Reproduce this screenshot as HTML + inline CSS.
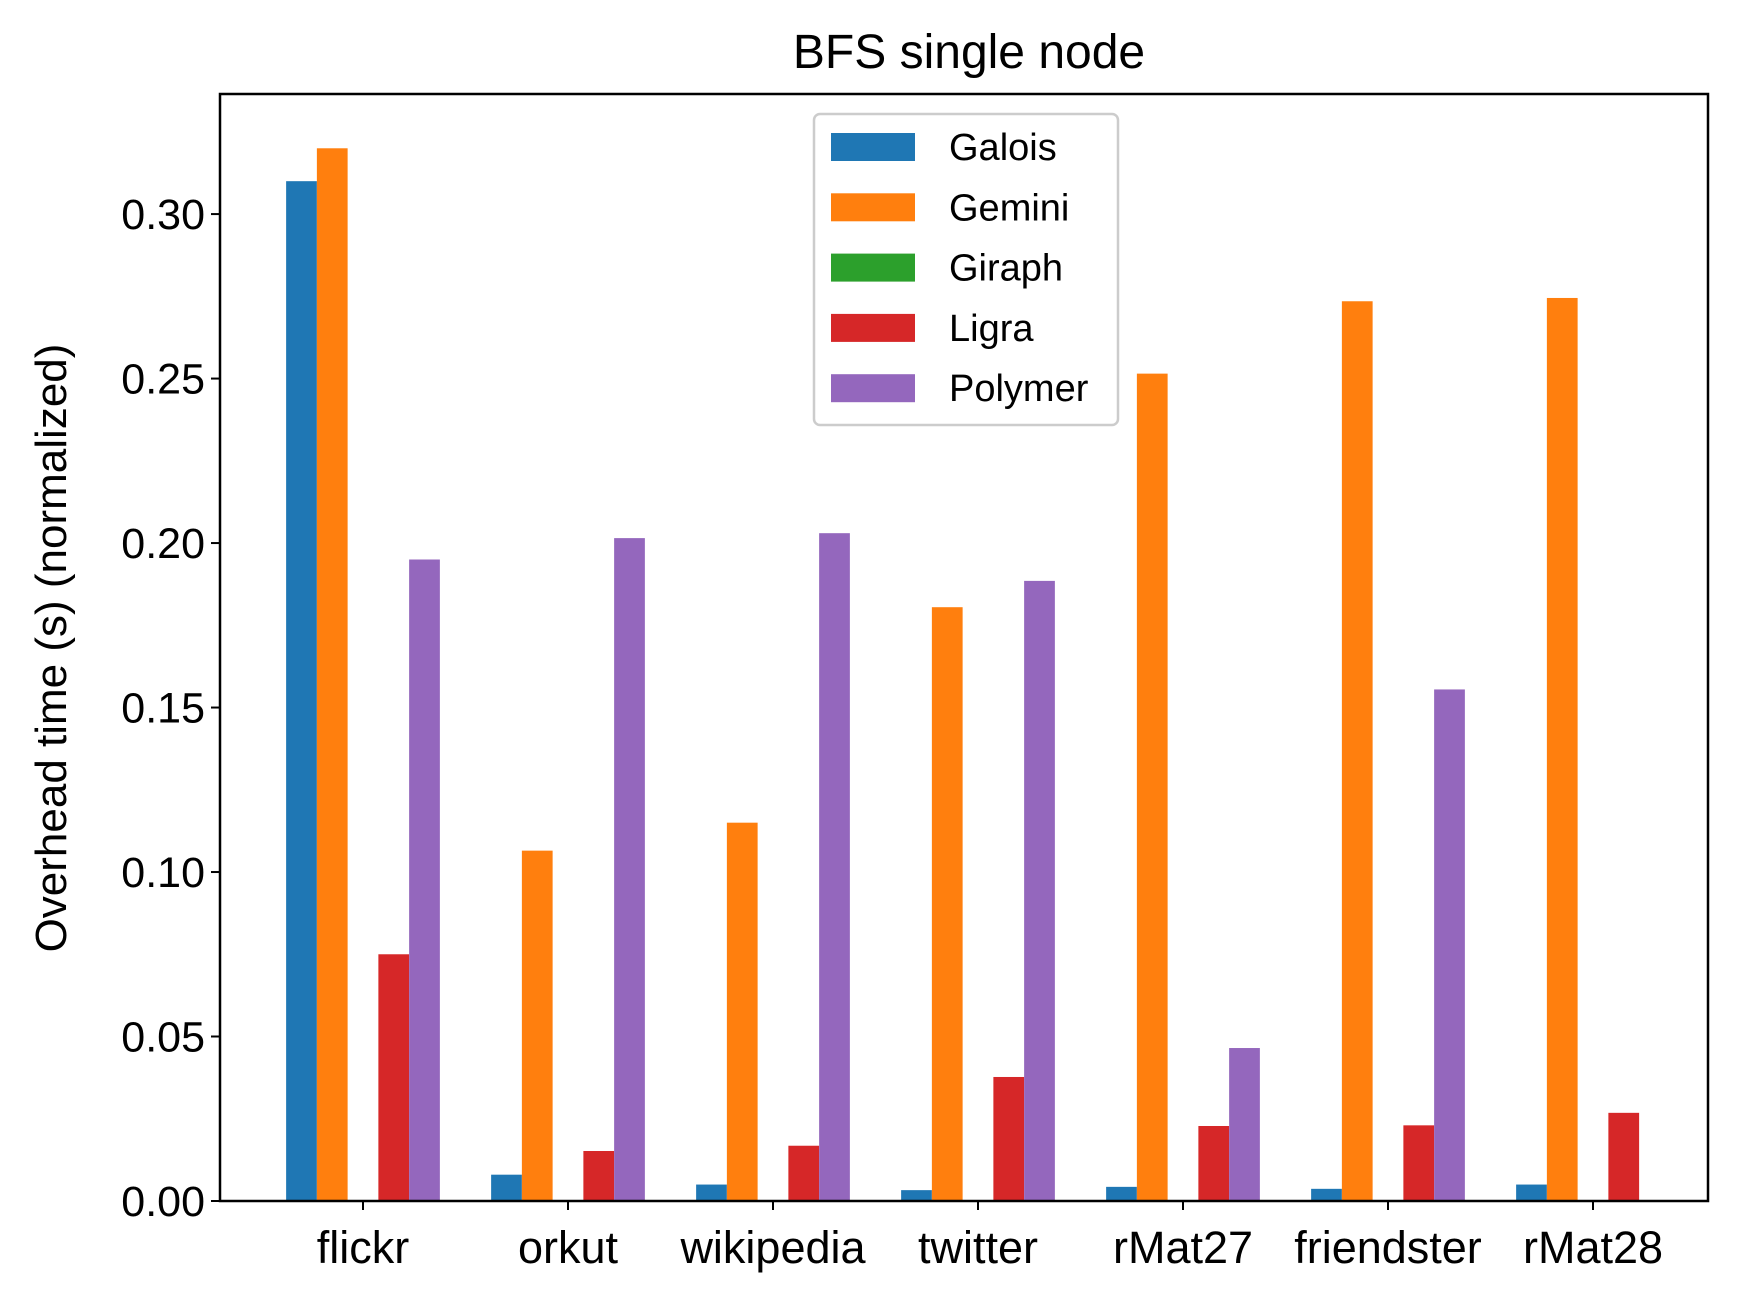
<!DOCTYPE html>
<html><head><meta charset="utf-8"><style>
body{margin:0;background:#fff}
svg{display:block;font-family:"Liberation Sans",Arial,sans-serif}
</style></head><body>
<svg id="c" width="1738" height="1308" viewBox="0 0 1738 1308"></svg>
<script>
const categories=["flickr","orkut","wikipedia","twitter","rMat27","friendster","rMat28"];
const seriesNames=["Galois","Gemini","Giraph","Ligra","Polymer"];
const colors=["#1f77b4","#ff7f0e","#2ca02c","#d62728","#9467bd"];
const galois=[0.31,0.008,0.005,0.0033,0.0043,0.0037,0.005];
const gemini=[0.32,0.1065,0.115,0.1805,0.2515,0.2735,0.2745];
const giraph=[0,0,0,0,0,0,0];
const ligra=[0.075,0.0152,0.0168,0.0377,0.0228,0.023,0.0268];
const polymer=[0.195,0.2015,0.203,0.1885,0.0465,0.1555,0];
const yTicks=[0,0.05,0.10,0.15,0.20,0.25,0.30];
const yTickLabels=["0.00","0.05","0.10","0.15","0.20","0.25","0.30"];
const series=[galois,gemini,giraph,ligra,polymer];
const L=220,R=1708,T=94,B=1201,ymax=0.3365;
const y=v=>B-(v/ymax)*(B-T);
const x=i=>363+i*205;
const bw=0.15*205;
const svg=document.getElementById('c');
const NS="http://www.w3.org/2000/svg";
function mk(tag,attrs,txt){const e=document.createElementNS(NS,tag);for(const k in attrs)e.setAttribute(k,attrs[k]);if(txt!==undefined)e.textContent=txt;svg.appendChild(e);return e;}
series.forEach((vals,s)=>{vals.forEach((v,i)=>{if(v<=0)return;
const r=mk('rect',{x:x(i)+(s-2)*bw-bw/2,y:y(v),width:bw,height:B-y(v),fill:colors[s]});

});});
const ax=mk('rect',{x:L,y:T,width:R-L,height:B-T,fill:'none',stroke:'#000','stroke-width':2.5});


yTicks.forEach((t,k)=>{mk('line',{x1:L-9,x2:L,y1:y(t),y2:y(t),stroke:'#000','stroke-width':2});
const tl=mk('text',{x:L-15,y:y(t)+15,'text-anchor':'end','font-size':43},yTickLabels[k]);

});
categories.forEach((c,i)=>{mk('line',{x1:x(i),x2:x(i),y1:B,y2:B+9,stroke:'#000','stroke-width':2});
const tl=mk('text',{x:x(i),y:B+62,'text-anchor':'middle','font-size':45},c);

});
const title=mk('text',{x:969,y:68,'text-anchor':'middle','font-size':48},'BFS single node');


const yl=mk('text',{x:0,y:0,transform:'translate(66,648) rotate(-90)','text-anchor':'middle','font-size':44},'Overhead time (s) (normalized)');


const lg=mk('rect',{x:814,y:114,width:304,height:311,rx:6,fill:'#fff',stroke:'#ccc','stroke-width':2.5});


seriesNames.forEach((n,s)=>{const yy=147+s*60.3;
const p=mk('rect',{x:831,y:yy-14,width:84,height:28,fill:colors[s]});


const t=mk('text',{x:949,y:yy+13,'font-size':38},n);

});
</script>
</body></html>
